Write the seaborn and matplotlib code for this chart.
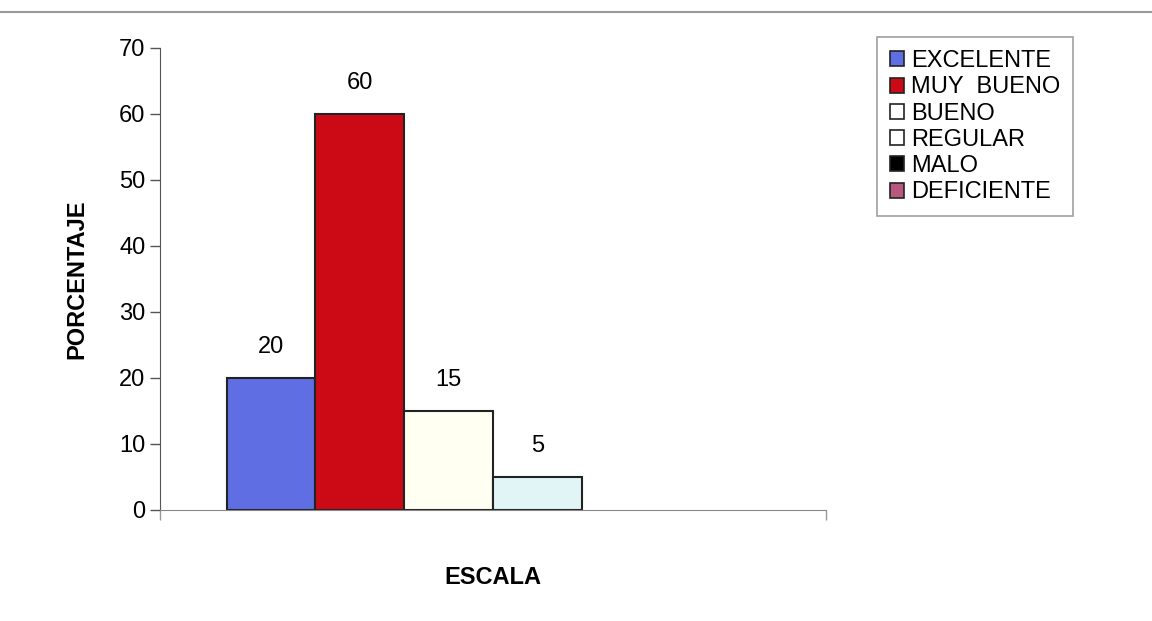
import numpy as np
import pandas as pd
import seaborn as sns
import matplotlib.pyplot as plt
from matplotlib.lines import Line2D
from matplotlib.patches import Patch

escala = ['EXCELENTE', 'MUY  BUENO', 'BUENO', 'REGULAR', 'MALO', 'DEFICIENTE']
porcentaje = [20, 60, 15, 5, 0, 0]
colores = ['#5f6fe3', '#cc0a16', '#fffff2', '#e2f5f6', '#000000', '#b8587e']
legend_face = ['#5f6fe3', '#cc0a16', '#ffffff', '#ffffff', '#000000', '#b8587e']

df = pd.DataFrame({'grupo': [''] * 6, 'escala': escala, 'porcentaje': porcentaje})

sns.set_style('white')
plt.rcParams['font.family'] = ['Liberation Sans', 'DejaVu Sans']
plt.rcParams['text.color'] = 'black'
plt.rcParams['axes.labelcolor'] = 'black'
plt.rcParams['ytick.color'] = 'black'

fig = plt.figure(figsize=(11.52, 6.21), dpi=100)
ax = fig.add_axes([0.139, 0.179, 0.578, 0.744])

sns.barplot(data=df, x='grupo', y='porcentaje', hue='escala', hue_order=escala,
            palette=colores, saturation=1, width=0.8, edgecolor='#222222',
            linewidth=1.5, legend=False, ax=ax)

# value labels, hide the outline of the empty bars
for bar, val in zip(ax.patches, porcentaje):
    if val > 0:
        ax.text(bar.get_x() + bar.get_width() / 2, val + 3, str(val),
                ha='center', va='bottom', fontsize=17)
    else:
        bar.set_linewidth(0)

ax.set_xlim(-0.5, 0.5)
ax.set_ylim(0, 70)
ax.set_yticks(range(0, 71, 10))
ax.set_xticks([-0.5, 0.5])
ax.set_xticklabels(['', ''])
ax.tick_params(axis='y', labelsize=17, length=7, width=1, color='#555555', direction='out', left=True)
ax.tick_params(axis='x', length=7, width=1, color='#999999', direction='out', bottom=True)
for side in ['top', 'right']:
    ax.spines[side].set_visible(False)
ax.spines['left'].set_color('#555555')
ax.spines['bottom'].set_color('#888888')

ax.set_ylabel('PORCENTAJE', fontsize=17, fontweight='bold', labelpad=22)
ax.set_xlabel('ESCALA', fontsize=17, fontweight='bold', labelpad=30)

handles = [Patch(facecolor=c, edgecolor='#222222', linewidth=1.2) for c in legend_face]
leg = fig.legend(handles, escala, loc='upper left', bbox_to_anchor=(0.761, 0.94),
                 frameon=True, fancybox=False, fontsize=17, handlelength=0.6,
                 handleheight=0.6, handletextpad=0.3, labelspacing=0.18,
                 borderpad=0.55, borderaxespad=0)
leg.get_frame().set_edgecolor('#888888')
leg.get_frame().set_linewidth(1.2)

fig.add_artist(Line2D([0, 1], [0.98, 0.98], color='#999999', linewidth=1.5))

fig.savefig('out.png', dpi=100)
